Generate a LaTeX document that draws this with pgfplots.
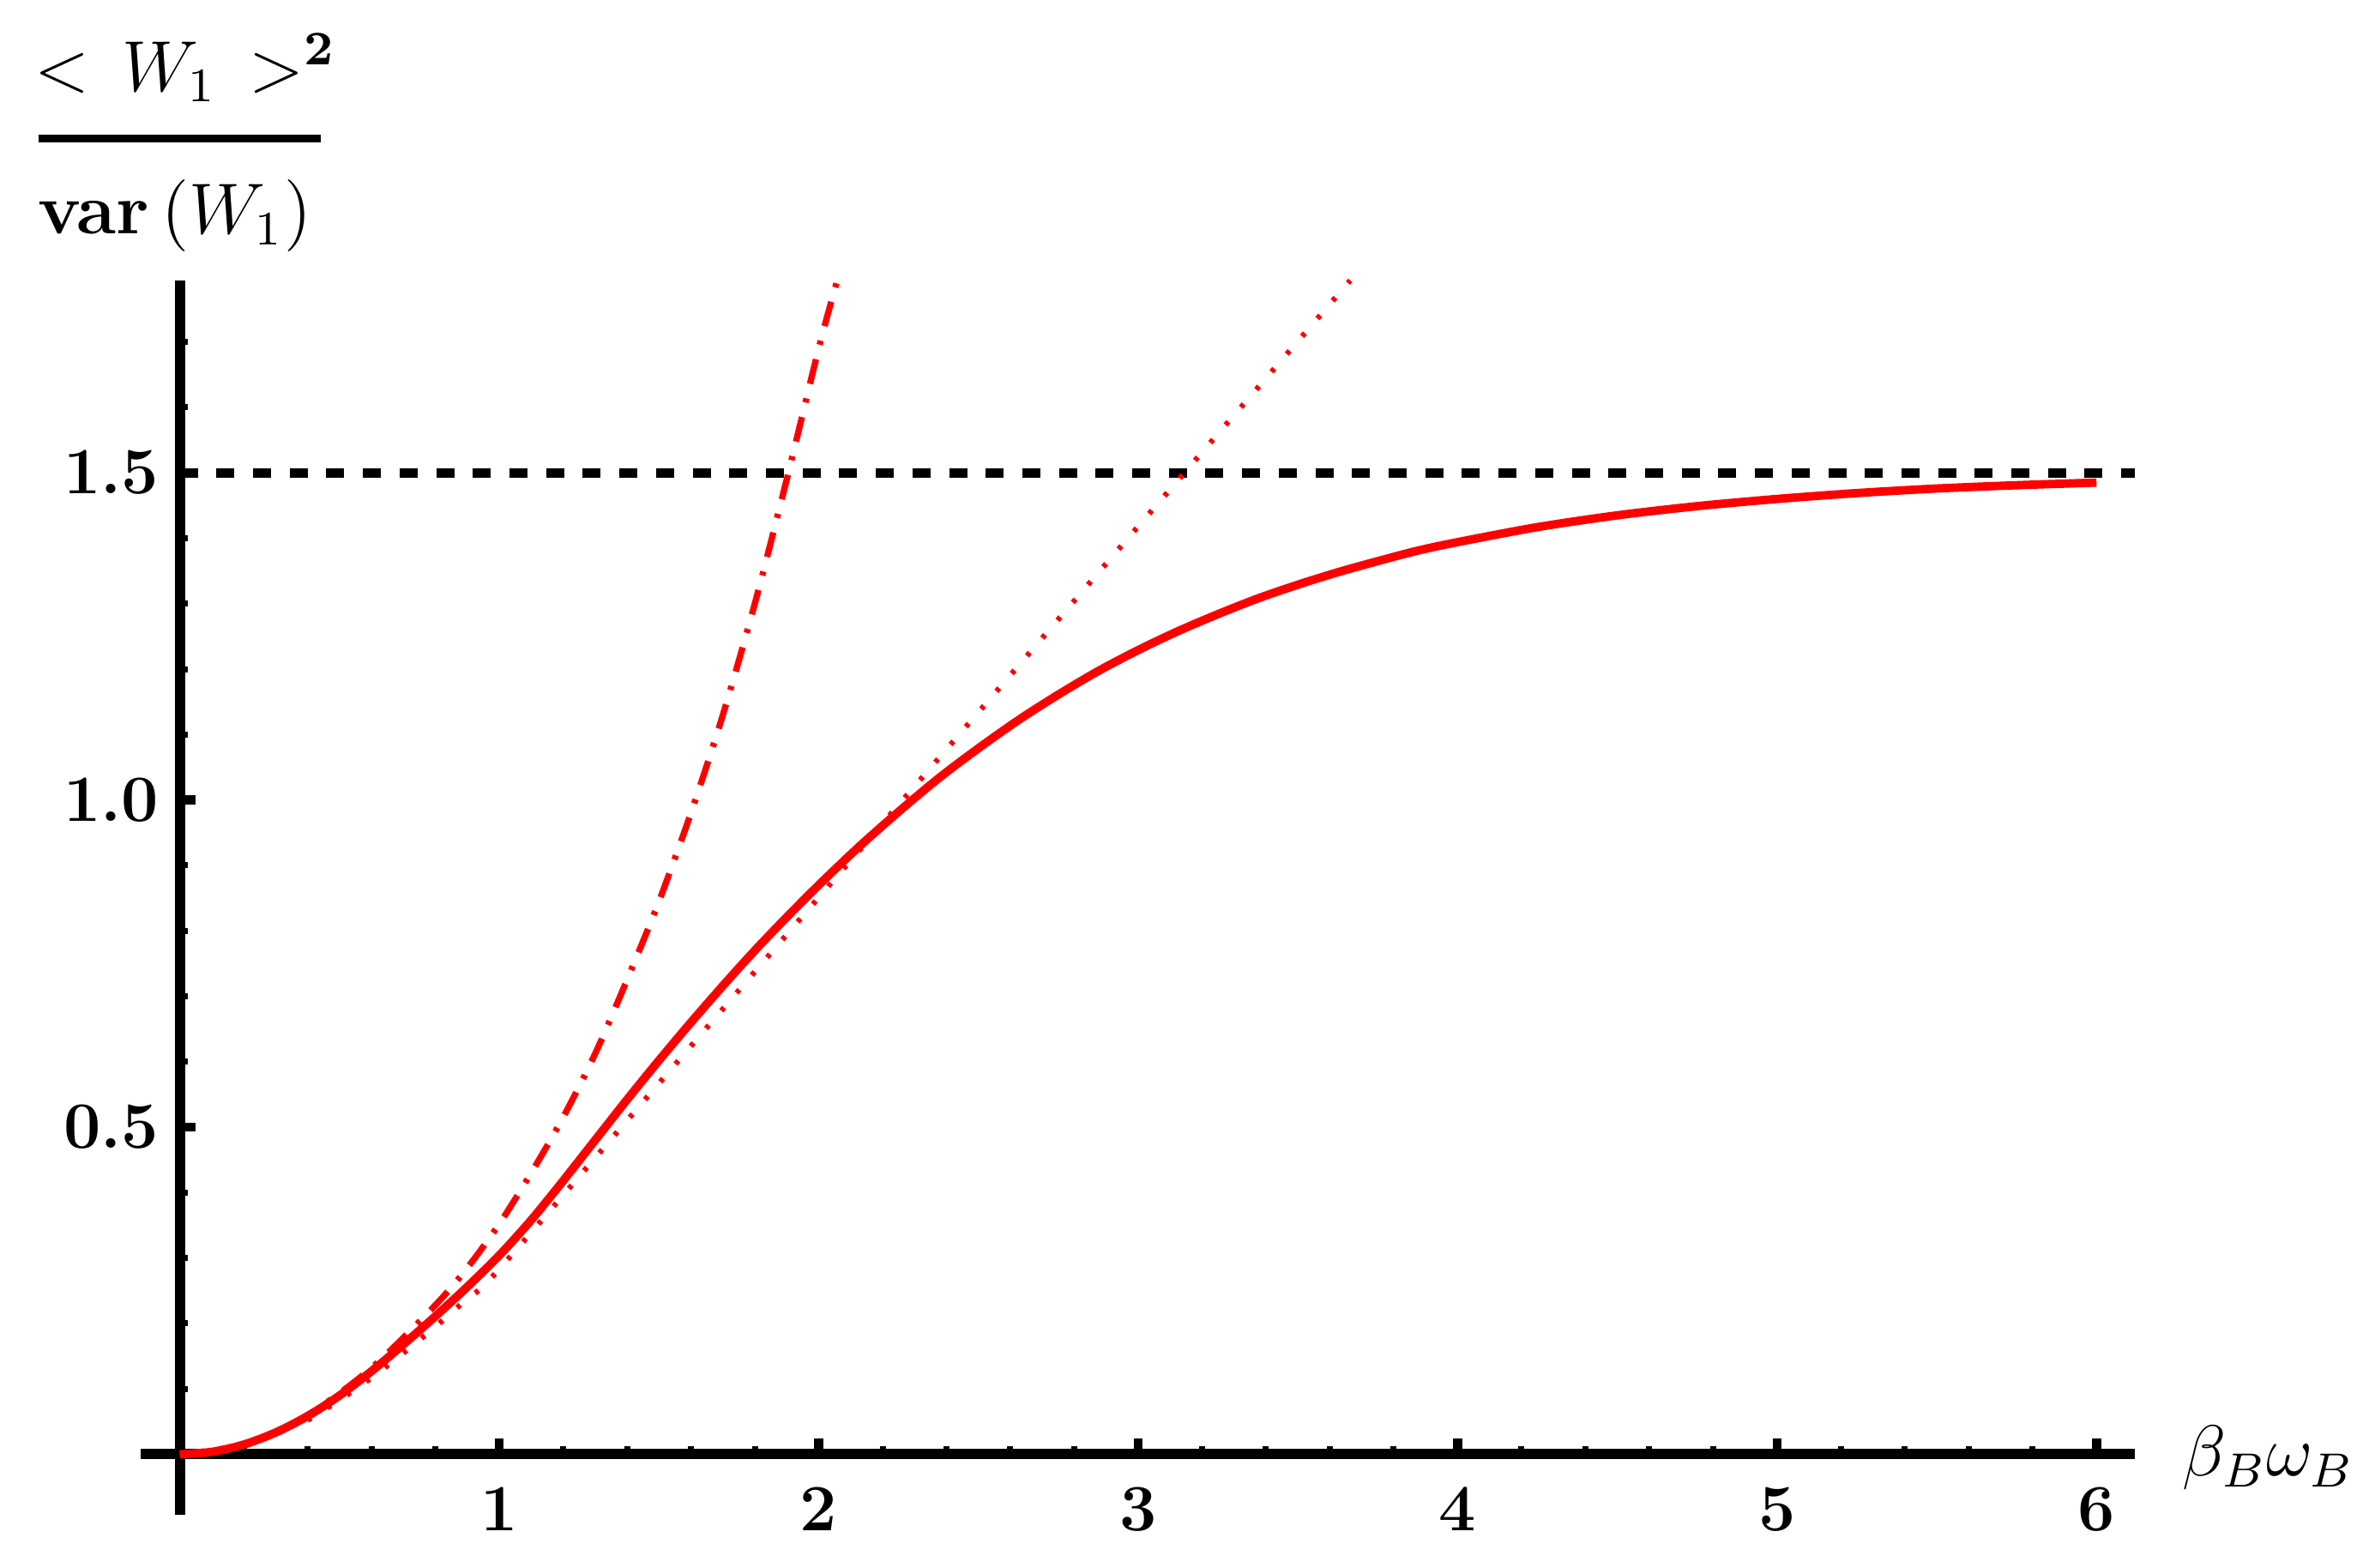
\documentclass[border=0pt]{standalone}
\usepackage{pgfplots}
\pgfplotsset{compat=1.18}
\usepackage{amsmath}
\begin{document}
\begin{tikzpicture}
\begin{axis}[
  scale only axis, width=332.1pt, height=205.6pt,
  xmin=-0.123, xmax=6.12, ymin=-0.093, ymax=1.794,
  axis lines=middle,
  axis line style={-, line width=1.7pt, line cap=butt},
  clip=false,
  xtick={1,2,3,4,5,6}, xticklabels={1,2,3,4,5,6},
  ytick={0.5,1,1.5}, yticklabels={0.5,1.0,1.5},
  minor xtick={0.2,0.4,0.6,0.8,1.2,1.4,1.6,1.8,2.2,2.4,2.6,2.8,3.2,3.4,3.6,3.8,4.2,4.4,4.6,4.8,5.2,5.4,5.6,5.8},
  minor ytick={0.1,0.2,0.3,0.4,0.6,0.7,0.8,0.9,1.1,1.2,1.3,1.4,1.6,1.7},
  tick align=inside,
  major tick length=2.6pt, minor tick length=1.3pt,
  major tick style={line width=1.5pt, black},
  minor tick style={line width=1pt, black},
  tick label style={font=\fontsize{11}{13}\selectfont\bfseries},
  xticklabel style={yshift=-2pt},
]
% horizontal asymptote
\addplot[black, line width=1.6pt, dash pattern=on 3pt off 3.1pt] coordinates {(0,1.5) (6.12,1.5)};
% dash-dot approximation
\addplot[red, line width=1.05pt, dash pattern=on 4.2pt off 2.5pt on 0.7pt off 2.5pt, smooth] coordinates {
(0,0) (0.2,0.015) (0.4,0.06) (0.6,0.132) (0.8,0.228) (0.9,0.285) (1.0,0.352) (1.1,0.43) (1.2,0.515) (1.3,0.612) (1.4,0.725) (1.5,0.845) (1.6,0.98) (1.7,1.13) (1.8,1.30) (1.9,1.49) (2.0,1.69) (2.058,1.794)};
% dotted approximation
\addplot[red, line width=0.9pt, dash pattern=on 0.7pt off 3.2pt, smooth] coordinates {
(0.4,0.052) (0.5,0.083) (0.6,0.117) (0.7,0.155) (0.8,0.195) (0.9,0.238) (1.0,0.283) (1.5,0.567) (2.0,0.851) (2.5,1.134) (3.0,1.418) (3.5,1.701) (3.664,1.794)};
% exact curve
\addplot[red, line width=1.4pt, smooth] coordinates {
(0,0) (0.1,0.0037) (0.2,0.0149) (0.3,0.0333) (0.4,0.0584) (0.5,0.0898) (0.6,0.127) (0.7,0.168) (0.8,0.211) (0.9,0.256) (1.0,0.304) (1.1,0.358) (1.2,0.418) (1.3,0.480) (1.4,0.542) (1.5,0.602) (1.6,0.660) (1.7,0.716) (1.8,0.770) (1.9,0.821) (2.0,0.870) (2.125,0.928) (2.25,0.982) (2.375,1.033) (2.5,1.079) (2.625,1.122) (2.75,1.161) (2.875,1.197) (3.0,1.229) (3.125,1.258) (3.25,1.284) (3.375,1.308) (3.5,1.329) (3.625,1.348) (3.75,1.365) (3.875,1.381) (4.0,1.394) (4.25,1.417) (4.5,1.435) (4.75,1.449) (5.0,1.460) (5.25,1.469) (5.5,1.476) (5.75,1.481) (6.0,1.485)};
% axis labels
\node[anchor=base west, inner sep=0pt, xshift=7.8pt, yshift=-3.6pt] at (axis cs:6.12,0) {\fontsize{12}{14}\selectfont$\beta_B\omega_B$};
\node[anchor=base, inner sep=0pt, xshift=1pt, yshift=31.5pt] at (axis cs:0,1.794) {\fontsize{12}{14}\selectfont$<\,W_1\,>^{\mathbf{2}}$};
\draw[line width=1.2pt] (axis cs:0,1.794) ++(-23.5pt,23.6pt) -- ++(47pt,0pt);
\node[anchor=base, inner sep=0pt, xshift=-0.8pt, yshift=7.7pt] at (axis cs:0,1.794) {\fontsize{12}{14}\selectfont\textbf{var}\,$(W_1)$};
\coordinate (bl) at ([xshift=-23.4pt,yshift=-8.7pt]axis cs:-0.123,-0.093);
\coordinate (tr) at ([xshift=40pt,yshift=46.7pt]axis cs:6.12,1.794);
\end{axis}
\path (bl) rectangle (tr);
\end{tikzpicture}
\end{document}
